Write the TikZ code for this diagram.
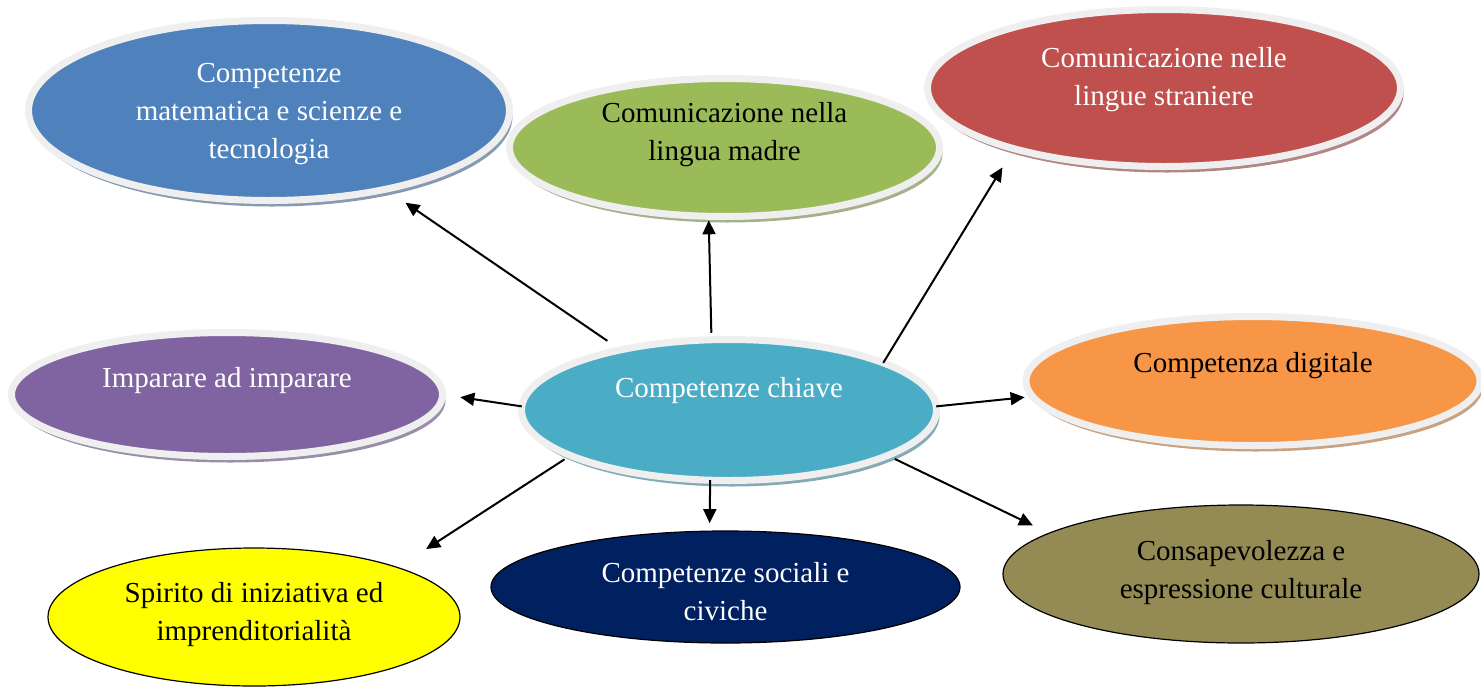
\documentclass[tikz,border=0pt]{standalone}
\usepackage{fontspec}
\setmainfont{Liberation Serif}
\usetikzlibrary{shapes.geometric,shadows,arrows.meta}
\definecolor{rim}{HTML}{EFEFEF}
\definecolor{cblue}{HTML}{4F81BD}
\definecolor{cgreen}{HTML}{9BBB59}
\definecolor{cred}{HTML}{C0504D}
\definecolor{cpurple}{HTML}{8064A2}
\definecolor{cteal}{HTML}{4BACC6}
\definecolor{corange}{HTML}{F79646}
\definecolor{cyellow}{HTML}{FFFF00}
\definecolor{cnavy}{HTML}{002060}
\definecolor{colive}{HTML}{948A54}
\tikzset{
    bubble/.style = {ellipse,
                    fill=#1,
                    draw=rim,
                    line width=3.5pt,
                    outer sep=0pt,
                    inner sep=0pt,
                    align=center,
                    font=\fontsize{14.5pt}{19pt}\selectfont,
                    drop shadow={shadow xshift=1.5pt,
                                 shadow yshift=-3pt,
                                 opacity=1,
                                 fill=#1!50!gray!80!white}},
    flat/.style =   {ellipse,
                    fill=#1,
                    draw=black,
                    line width=0.6pt,
                    outer sep=0pt,
                    inner sep=0pt,
                    align=center,
                    font=\fontsize{14.5pt}{19pt}\selectfont},
    lift/.style =   {text height=0pt,
                    text depth=#1},
    sink/.style =   {text height=#1,
                    text depth=0pt},
    arr/.style =    {line width=1pt,
                    -{Triangle[length=7pt,width=6.5pt]}},
    -,
    >=stealth}

\begin{document}
\begin{tikzpicture}[x=0.5pt,y=-0.5pt]
    \useasboundingbox (0,0) rectangle (1481,686);
    \node[bubble=cteal, text=white, lift=13pt, minimum width=207.5pt, minimum height=70.5pt]
        (chiave) at (729,410) {Competenze chiave};
    \node[bubble=cblue, text=white, sink=48pt, minimum width=240.5pt, minimum height=90pt]
        (mate) at (269,110.5) {Competenze\\ matematica e scienze e\\ tecnologia};
    \node[bubble=cgreen, text=black, sink=12.5pt, minimum width=215pt, minimum height=69pt]
        (madre) at (724.5,147.5) {Comunicazione nella\\ lingua madre};
    \node[bubble=cred, text=white, sink=17pt, minimum width=236.5pt, minimum height=78.5pt]
        (straniere) at (1164,88) {Comunicazione nelle\\ lingue straniere};
    \node[bubble=cpurple, text=white, lift=7.5pt, minimum width=215.5pt, minimum height=62pt]
        (imparare) at (227,394.5) {Imparare ad imparare};
    \node[bubble=corange, text=black, lift=9pt, minimum width=227pt, minimum height=64.5pt]
        (digitale) at (1253,381) {Competenza digitale};
    \node[flat=cyellow, text=black, sink=23pt, minimum width=206pt, minimum height=69pt]
        (spirito) at (254,617) {Spirito di iniziativa ed\\ imprenditorialità};
    \node[flat=cnavy, text=white, sink=33pt, minimum width=234.5pt, minimum height=56pt]
        (sociali) at (725.5,587) {Competenze sociali e\\ civiche};
    \node[flat=colive, text=black, sink=24pt, minimum width=238pt, minimum height=69pt]
        (cultura) at (1241,574) {Consapevolezza e\\ espressione culturale};

    \path [arr] (chiave.151) edge [shorten <=8pt, shorten >=12pt]   (mate.326)
                (chiave.104) edge [shorten <=3.5pt, shorten >=2pt]  (madre.257)
                (chiave.17)  edge [shorten >=11pt]                  (straniere.202)
                (chiave.179) edge [shorten >=9pt]                   (imparare.0)
                (chiave.1)   edge [shorten >=4pt]                   (digitale.184)
                (chiave.196) edge [shorten <=3.5pt, shorten >=17pt] (spirito.19)
                (chiave.255) edge [shorten >=4pt]                   (sociali.106)
                (chiave.344) edge [shorten <=4pt, shorten >=9pt]    (cultura.168);
\end{tikzpicture}
\end{document}
